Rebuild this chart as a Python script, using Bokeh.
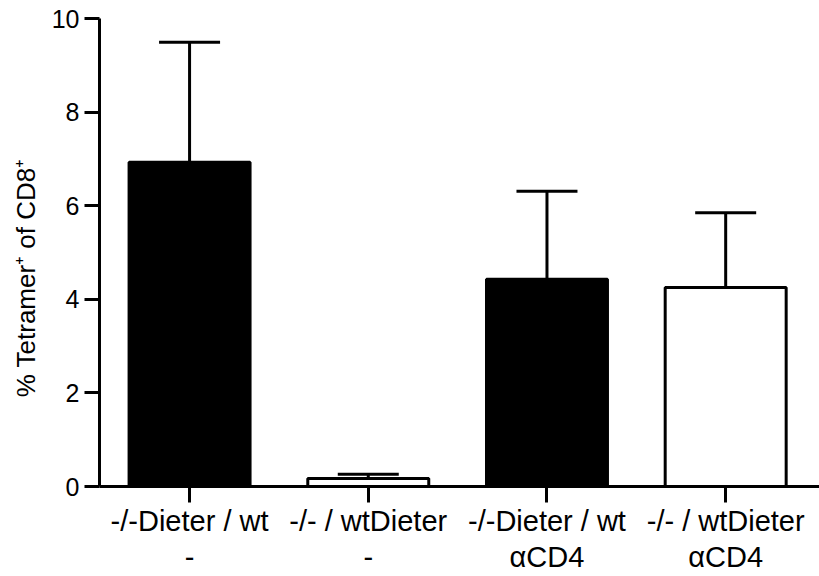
from bokeh.plotting import figure
from bokeh.models import ColumnDataSource, Whisker, TeeHead, FixedTicker
from bokeh.embed import file_html
from bokeh.resources import INLINE

# Data
groups = ["-/-Dieter / wt\n-", "-/- / wtDieter\n-", "-/-Dieter / wt\nαCD4", "-/- / wtDieter\nαCD4"]
means = [6.93, 0.17, 4.43, 4.25]
sem = [2.56, 0.09, 1.88, 1.60]
fills = ["black", "white", "black", "white"]
y_ticks = [0, 2, 4, 6, 8, 10]
y_title = "% Tetramer⁺ of CD8⁺"

xs = list(range(1, len(groups) + 1))
upper = [m + s for m, s in zip(means, sem)]
src = ColumnDataSource(dict(x=xs, top=means, upper=upper, fill=fills))

FONT = "Liberation Sans"

p = figure(width=819, height=576, x_range=(0.496, 4.525), y_range=(0, 10),
           output_backend="svg", toolbar_location=None,
           min_border_left=99, min_border_top=18, min_border_right=0, min_border_bottom=88)
p.outline_line_color = None
p.grid.visible = False
p.background_fill_color = "white"

p.vbar(x="x", top="top", bottom=0, width=0.677, fill_color="fill",
       line_color="black", line_width=3, source=src)

w = Whisker(base="x", lower="top", upper="upper", source=src, dimension="height",
            line_color="black", line_width=3,
            upper_head=TeeHead(size=61, line_width=3, line_color="black"),
            lower_head=None)
p.add_layout(w)

# y axis
ya = p.yaxis[0]
ya.ticker = FixedTicker(ticks=y_ticks)
ya.minor_tick_line_color = None
ya.major_tick_out = 15
ya.major_tick_in = 0
ya.major_tick_line_width = 3
ya.axis_line_width = 3
ya.major_label_text_font = FONT
ya.major_label_text_font_size = "25px"
ya.major_label_text_color = "black"
ya.major_label_standoff = 5
ya.axis_label = y_title + "\u00a0" * 7
ya.axis_label_text_font = FONT
ya.axis_label_text_font_size = "26px"
ya.axis_label_text_font_style = "normal"
ya.axis_label_text_color = "black"
ya.axis_label_standoff = 8

# x axis
xa = p.xaxis[0]
xa.ticker = FixedTicker(ticks=xs)
xa.major_label_overrides = {x: g for x, g in zip(xs, groups)}
xa.minor_tick_line_color = None
xa.major_tick_out = 16
xa.major_tick_in = 0
xa.major_tick_line_width = 3
xa.axis_line_width = 3
xa.major_label_text_font = FONT
xa.major_label_text_font_size = "29px"
xa.major_label_text_color = "black"
xa.major_label_standoff = 2
xa.major_label_text_line_height = 1.15

open("out.html", "w").write(file_html(p, INLINE))
